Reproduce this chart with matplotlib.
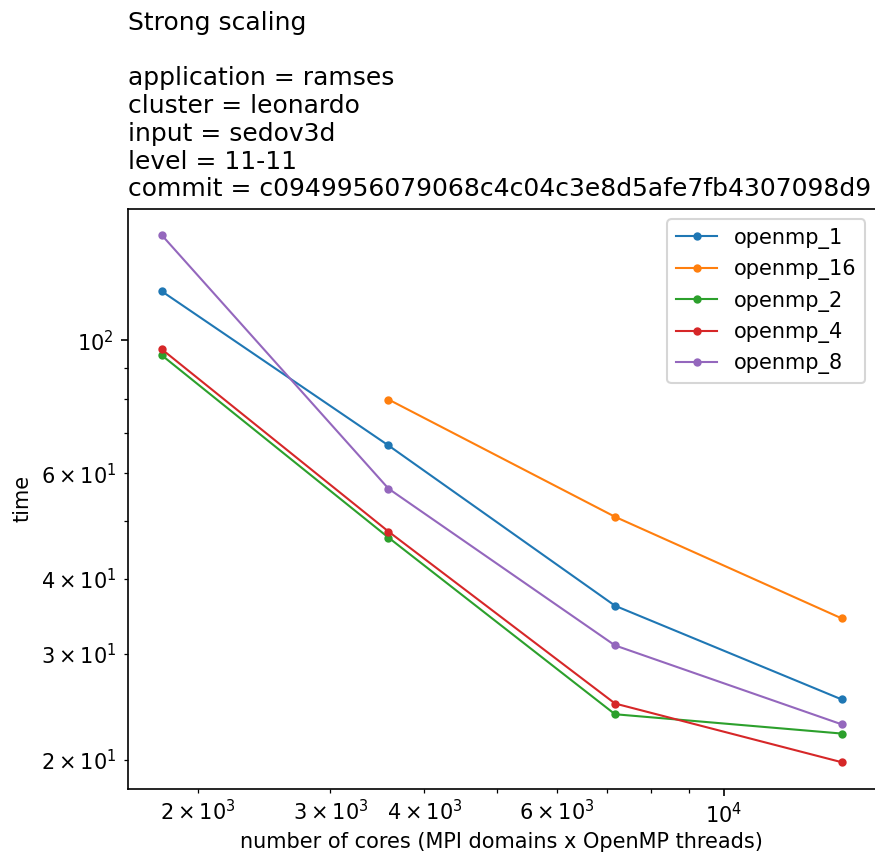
import numpy as np
import matplotlib
matplotlib.use("Agg")
import matplotlib.pyplot as plt

# cores = MPI domains x OpenMP threads
cores = [1792, 3584, 7168, 14336]

series_names = ["openmp_1", "openmp_16", "openmp_2", "openmp_4", "openmp_8"]
openmp_1 = [120.7, 66.8, 36.1, 25.2]
openmp_16 = [np.nan, 79.7, 50.8, 34.4]
openmp_2 = [94.4, 46.9, 23.8, 22.1]
openmp_4 = [96.6, 48.0, 24.8, 19.8]
openmp_8 = [149.7, 56.6, 31.0, 22.9]
series_values = [openmp_1, openmp_16, openmp_2, openmp_4, openmp_8]

title_lines = [
    "Strong scaling",
    "",
    "application = ramses",
    "cluster = leonardo",
    "input = sedov3d",
    "level = 11-11",
    "commit = c0949956079068c4c04c3e8d5afe7fb4307098d9",
]

W, H = 875, 854
dpi = 150
fig = plt.figure(figsize=(W / dpi, H / dpi), dpi=dpi)
ax = fig.add_axes([128 / W, 1 - 788.5 / H, (875.5 - 128) / W, (788.5 - 209) / H])

for name, vals in zip(series_names, series_values):
    ax.plot(cores, vals, marker=".", label=name, linewidth=1.0)

ax.set_xscale("log")
ax.set_yscale("log")
ax.tick_params(axis="x", which="both", pad=3)
ax.set_xlabel("number of cores (MPI domains x OpenMP threads)", labelpad=2.5)
ax.set_ylabel("time")
ax.set_title("\n".join(title_lines), loc="left", fontsize=12)
ax.legend(loc="upper right", fontsize=10)

fig.savefig("out.png", dpi=dpi)
